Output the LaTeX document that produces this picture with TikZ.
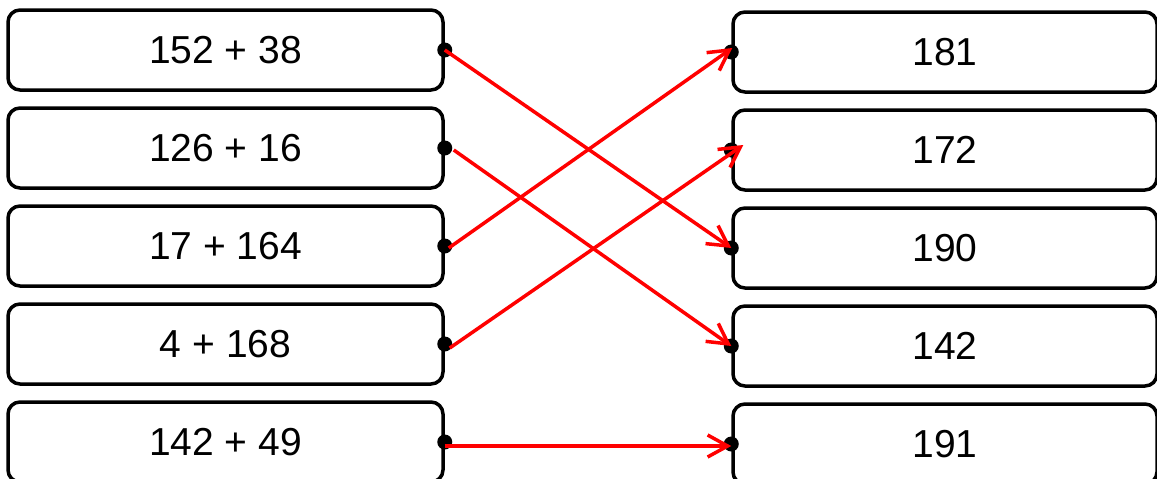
\documentclass[tikz,border=0pt]{standalone}
\usepackage{fontspec}
\setmainfont{Liberation Sans}
\usetikzlibrary{arrows.meta}
\tikzset{
  box/.style={draw=black, line width=3.5pt, rounded corners=12pt, fill=white,
    minimum height=80pt, inner sep=0pt, font=\fontsize{39}{46}\selectfont},
  lbox/.style={box, minimum width=435pt},
  rbox/.style={box, minimum width=424pt},
  dot/.style={circle, fill=black, inner sep=0pt, minimum size=15pt},
  link/.style={draw=red, line width=3.5pt, -{Straight Barb[length=20pt,width=22pt,line width=3.5pt]}}
}
\begin{document}
\begin{tikzpicture}[x=1pt,y=-1pt]
\useasboundingbox (0,0) rectangle (1157,479);
\node[lbox] (l1) at (225.5,50) {152 + 38};
\node[lbox] (l2) at (225.5,148) {126 + 16};
\node[lbox] (l3) at (225.5,246) {17 + 164};
\node[lbox] (l4) at (225.5,344) {4 + 168};
\node[lbox] (l5) at (225.5,442) {142 + 49};
\node[rbox] (r1) at (945,52) {181};
\node[rbox] (r2) at (945,150) {172};
\node[rbox] (r3) at (945,248) {190};
\node[rbox] (r4) at (945,346) {142};
\node[rbox] (r5) at (945,444) {191};
\foreach \i in {1,...,5}{
  \node[dot] (dl\i) at (l\i.east) {};
  \node[dot] (dr\i) at (r\i.west) {};
}
\draw[link] (dl1.center) -- (dr3.center);
\draw[link] ([xshift=9pt,yshift=-2pt]dl2.center) -- (dr4.center);
\draw[link] ([xshift=4pt,yshift=-2pt]dl3.center) -- ([xshift=1pt,yshift=4pt]dr1.center);
\draw[link] ([xshift=5pt,yshift=-4pt]dl4.center) -- ([xshift=12pt,yshift=5pt]dr2.center);
\draw[link] ([yshift=-4pt]dl5.center) -- ([yshift=-2pt]dr5.center);
\end{tikzpicture}
\end{document}
